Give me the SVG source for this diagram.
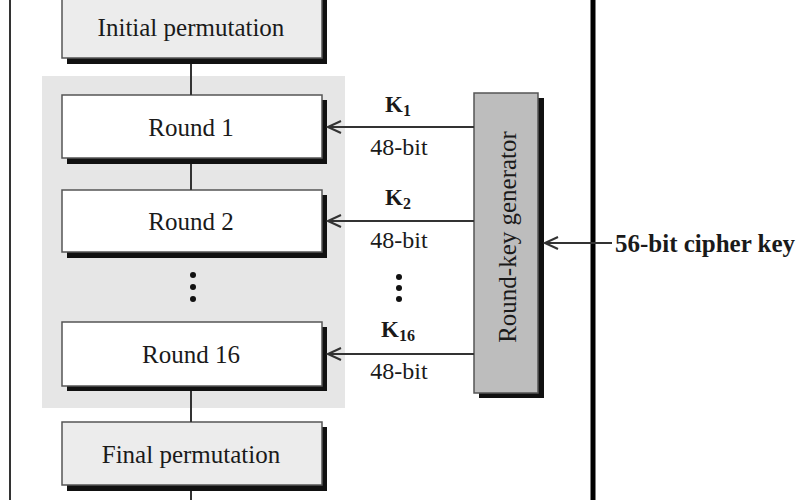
<svg xmlns="http://www.w3.org/2000/svg" width="800" height="500" viewBox="0 0 800 500">
<defs>
<style>
.t{font-family:"Liberation Serif","Times New Roman",serif;fill:#1a1a1a;}
.box{font-size:25px;text-anchor:middle;dominant-baseline:central;}
.lbl{font-size:24px;text-anchor:middle;dominant-baseline:central;}
.k{font-size:23px;font-weight:bold;text-anchor:middle;dominant-baseline:central;}
.sh{fill:#111;}
.frame{stroke:#555;stroke-width:1.5;}
.ln{stroke:#333;stroke-width:2;fill:none;}
</style>
<marker id="ah" markerWidth="16" markerHeight="14" refX="14" refY="7" orient="auto" markerUnits="userSpaceOnUse">
<path d="M1,1 L14,7 L1,13" fill="none" stroke="#333" stroke-width="2"/>
</marker>
</defs>
<rect width="800" height="500" fill="#fff"/>
<g id="des-frame">
<line x1="10" y1="0" x2="10" y2="500" stroke="#333" stroke-width="2"/>
<line x1="593" y1="0" x2="593" y2="500" stroke="#000" stroke-width="5"/>
</g>
<g id="rounds-bg"><rect x="42" y="76" width="303" height="332" fill="#e6e6e6"/></g>
<g id="initial-permutation">
<rect class="sh" x="67" y="0" width="260" height="64"/>
<rect class="frame" x="62" y="-5" width="260" height="63" fill="#ececec"/>
<text class="t box" x="191" y="27">Initial permutation</text>
</g>
<g id="round1">
<rect class="sh" x="67" y="100" width="260" height="64"/>
<rect class="frame" x="62" y="95" width="260" height="63" fill="#fff"/>
<text class="t box" x="191" y="127">Round 1</text>
</g>
<g id="round2">
<rect class="sh" x="67" y="195" width="260" height="63"/>
<rect class="frame" x="62" y="190" width="260" height="62" fill="#fff"/>
<text class="t box" x="191" y="221">Round 2</text>
</g>
<g id="dots-rounds">
<circle cx="193" cy="275" r="3" fill="#111"/>
<circle cx="193" cy="287" r="3" fill="#111"/>
<circle cx="193" cy="299" r="3" fill="#111"/>
</g>
<g id="round16">
<rect class="sh" x="67" y="327" width="260" height="64"/>
<rect class="frame" x="62" y="322" width="260" height="64" fill="#fff"/>
<text class="t box" x="191" y="354">Round 16</text>
</g>
<g id="final-permutation">
<rect class="sh" x="67" y="427" width="260" height="64"/>
<rect class="frame" x="62" y="422" width="260" height="63" fill="#ececec"/>
<text class="t box" x="191" y="454">Final permutation</text>
</g>
<g id="round-key-generator">
<rect class="sh" x="479" y="98" width="65" height="300"/>
<rect class="frame" x="474" y="93" width="64" height="300" fill="#bdbdbd"/>
<text class="t box" x="0" y="0" font-size="24" transform="translate(507,237) rotate(-90)">Round-key generator</text>
</g>
<g id="connectors">
<line class="ln" x1="191" y1="64" x2="191" y2="95"/>
<line class="ln" x1="191" y1="164" x2="191" y2="190"/>
<line class="ln" x1="191" y1="391" x2="191" y2="422"/>
<line class="ln" x1="191" y1="491" x2="191" y2="500"/>
<line class="ln" x1="474" y1="127" x2="328" y2="127" marker-end="url(#ah)"/>
<line class="ln" x1="474" y1="221" x2="328" y2="221" marker-end="url(#ah)"/>
<line class="ln" x1="474" y1="354" x2="328" y2="354" marker-end="url(#ah)"/>
<line class="ln" x1="612" y1="243" x2="545" y2="243" marker-end="url(#ah)"/>
</g>
<g id="key-labels">
<text class="t k" x="398" y="104">K<tspan font-size="16" dy="6">1</tspan></text>
<text class="t lbl" x="399" y="147">48-bit</text>
<text class="t k" x="398" y="197">K<tspan font-size="16" dy="6">2</tspan></text>
<text class="t lbl" x="399" y="240">48-bit</text>
<circle cx="399" cy="277" r="3" fill="#111"/>
<circle cx="399" cy="288" r="3" fill="#111"/>
<circle cx="399" cy="299" r="3" fill="#111"/>
<text class="t k" x="398" y="329">K<tspan font-size="16" dy="6">16</tspan></text>
<text class="t lbl" x="399" y="371">48-bit</text>
</g>
<g id="cipher-key">
<text class="t" x="615" y="243" font-size="25" font-weight="bold" dominant-baseline="central">56-bit cipher key</text>
</g>
</svg>
